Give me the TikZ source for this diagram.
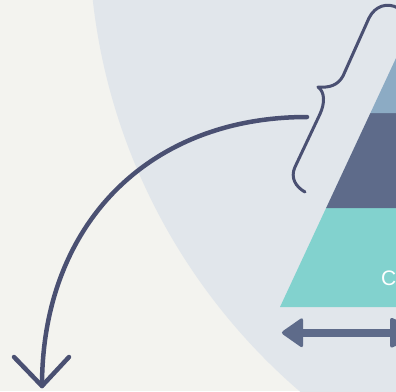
\documentclass[tikz,border=0pt]{standalone}
\usepackage{fontspec}
\setmainfont{Liberation Sans}
\definecolor{bgcol}{HTML}{F3F3EF}
\definecolor{circcol}{HTML}{E1E6EB}
\definecolor{tealcol}{HTML}{82D2CE}
\definecolor{slatecol}{HTML}{5E6B8A}
\definecolor{lightcol}{HTML}{8CABC4}
\definecolor{inkcol}{HTML}{4A5072}
\tikzset{
  inkline/.style={draw=inkcol, line cap=round, line join=round},
}
\begin{document}
\begin{tikzpicture}[x=1pt,y=-1pt]
\useasboundingbox (0,0) rectangle (396,391);
\clip (0,0) rectangle (396,391);
\fill[bgcol] (0,0) rectangle (396,391);
\fill[circcol] (695,-68) circle (606);
% pyramid layers
\fill[tealcol] (280,307) -- (326.1,208) -- (440,208) -- (440,307) -- cycle;
\fill[slatecol] (326.1,208) -- (370.4,113) -- (440,113) -- (440,208) -- cycle;
\fill[lightcol] (370.4,113) -- (424,-2) -- (440,-2) -- (440,113) -- cycle;
\node[text=white, font=\fontsize{21}{21}\selectfont, anchor=base west, inner sep=0pt] (lbl) at (381,285) {C};
% double arrow
\fill[slatecol] (298,329) rectangle (400,336.5);
\fill[slatecol, rounded corners=3pt] (280.5,332.7) -- (303,317) -- (303,348.5) -- cycle;
\fill[slatecol, rounded corners=3pt] (390,317) -- (390,348.5) -- (425,332.7) -- cycle;
% brace
\draw[inkline, line width=3pt]
  (305,192) .. controls (296,187) and (290,178) .. (295,167)
  -- (320,114) .. controls (325,103) and (325,92) .. (318,87)
  .. controls (330,88) and (338,85) .. (343,76)
  -- (369,18) .. controls (375,6) and (387,2) .. (398,8);
% curved arrow
\coordinate (start) at (307,117);
\coordinate (tip) at (42,386);
\coordinate (hl) at (14,357);
\coordinate (hr) at (69,357);
\draw[inkline, line width=4.5pt] (start) .. controls (148,117) and (42,225) .. (tip);
\draw[inkline, line width=4.5pt] (hl) -- (tip) -- (hr);
\end{tikzpicture}
\end{document}
